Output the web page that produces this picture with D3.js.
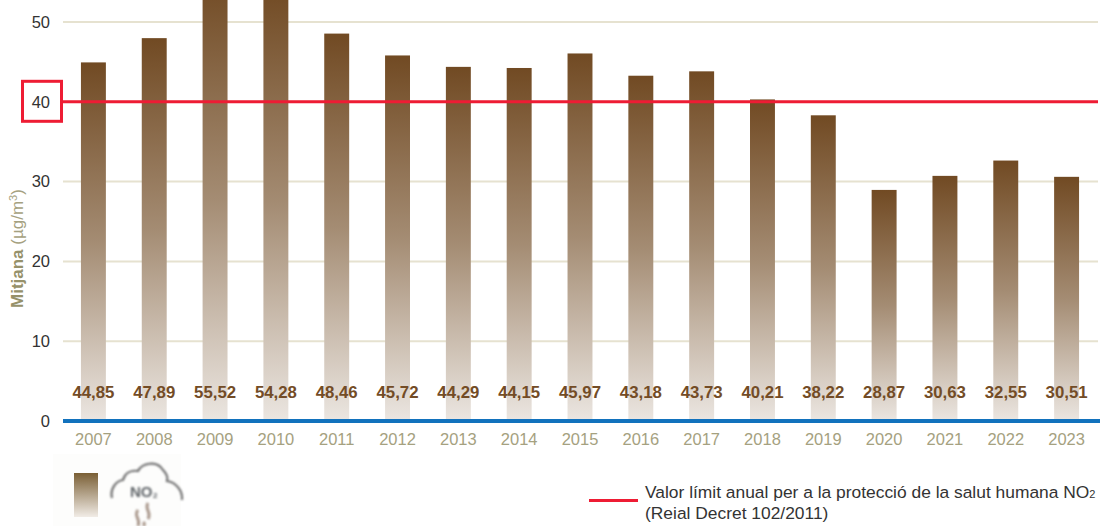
<!DOCTYPE html>
<html>
<head>
<meta charset="utf-8">
<script src="https://cdn.jsdelivr.net/npm/d3@7"></script>
<style>
  html, body { margin: 0; padding: 0; background: #fff; overflow: hidden; }
  text { font-family: "Liberation Sans", Arial, sans-serif; }
</style>
</head>
<body>
<div id="chart"></div>
<script>
var years = ["2007", "2008", "2009", "2010", "2011", "2012", "2013", "2014", "2015", "2016", "2017", "2018", "2019", "2020", "2021", "2022", "2023"];
var values = [44.85, 47.89, 55.52, 54.28, 48.46, 45.72, 44.29, 44.15, 45.97, 43.18, 43.73, 40.21, 38.22, 28.87, 30.63, 32.55, 30.51];
var valueLabels = ["44,85", "47,89", "55,52", "54,28", "48,46", "45,72", "44,29", "44,15", "45,97", "43,18", "43,73", "40,21", "38,22", "28,87", "30,63", "32,55", "30,51"];
var yTicks = [0, 10, 20, 30, 40, 50];
var limitValue = 40;
var legendLines = ["Valor límit anual per a la protecció de la salut humana NO", "(Reial Decret 102/2011)"];

var width = 1100, height = 526;

var svg = d3.select("#chart")
    .append("svg")
    .attr("width", width)
    .attr("height", height)
    .style("display", "block");

// scales
var x = d3.scaleBand()
    .domain(years)
    .range([63, 1097])
    .paddingInner(0.59)
    .paddingOuter(0.295);

var y = d3.scaleLinear()
    .domain([0, 50])
    .range([421, 22]);

// gradient of the bars, dark on top and fading to the bottom
var defs = svg.append("defs");
var grad = defs.append("linearGradient")
    .attr("id", "barGrad")
    .attr("x1", 0).attr("y1", 0).attr("x2", 0).attr("y2", 1);
grad.append("stop").attr("offset", "0%").attr("stop-color", "#714a23");
grad.append("stop").attr("offset", "50%").attr("stop-color", "#a48c73");
grad.append("stop").attr("offset", "100%").attr("stop-color", "#ebe6e1");

// grid lines
svg.append("g")
    .selectAll("line")
    .data(yTicks.filter(d => d > 0))
    .enter()
    .append("line")
    .attr("x1", 63)
    .attr("x2", 1098)
    .attr("y1", d => y(d))
    .attr("y2", d => y(d))
    .style("stroke", "#e6e2d0")
    .style("stroke-width", 2);

// bars
svg.append("g")
    .selectAll("rect")
    .data(values)
    .enter()
    .append("rect")
    .attr("x", (d, i) => x(years[i]))
    .attr("y", d => y(d) - 0.7)
    .attr("width", x.bandwidth())
    .attr("height", d => y(0) - y(d) + 0.7)
    .style("fill", "url(#barGrad)");

// limit line
svg.append("line")
    .attr("x1", 63)
    .attr("x2", 1098)
    .attr("y1", y(limitValue))
    .attr("y2", y(limitValue))
    .style("stroke", "#ee1c34")
    .style("stroke-width", 3);

// box round the 40 tick
svg.append("rect")
    .attr("x", 22.5)
    .attr("y", y(limitValue) - 20.5)
    .attr("width", 39)
    .attr("height", 40)
    .style("fill", "#fff")
    .style("stroke", "#ee1c34")
    .style("stroke-width", 3);

// base line
svg.append("line")
    .attr("x1", 63)
    .attr("x2", 1100)
    .attr("y1", y(0))
    .attr("y2", y(0))
    .style("stroke", "#1272bd")
    .style("stroke-width", 4);

// y axis labels
var yAxis = svg.append("g")
    .attr("transform", "translate(50,0)")
    .call(d3.axisLeft(y).tickValues(yTicks).tickSize(0).tickPadding(0));
yAxis.select(".domain").remove();
yAxis.selectAll("text")
    .style("font-size", "16.5px")
    .style("fill", "#333");

// x axis labels
var xAxis = svg.append("g")
    .attr("transform", "translate(0,433)")
    .call(d3.axisBottom(x).tickSize(0).tickPadding(0));
xAxis.select(".domain").remove();
xAxis.selectAll("text")
    .style("font-size", "16.5px")
    .style("fill", "#a5a180");

// value labels
svg.append("g")
    .selectAll("text")
    .data(valueLabels)
    .enter()
    .append("text")
    .attr("x", (d, i) => x(years[i]) + x.bandwidth() / 2)
    .attr("y", 398)
    .attr("text-anchor", "middle")
    .style("font-size", "16.8px")
    .style("font-weight", "bold")
    .style("fill", "#734c26")
    .text(d => d);

// y axis title
var yTitle = svg.append("text")
    .attr("transform", "translate(23,308) rotate(-90)")
    .style("font-size", "17px")
    .style("fill", "#a5a180");
yTitle.append("tspan").style("font-weight", "bold").style("fill", "#96916a").text("Mitjana");
yTitle.append("tspan").text(" (µg/m");
yTitle.append("tspan").attr("dy", -6).style("font-size", "11px").text("3");
yTitle.append("tspan").attr("dy", 6).text(")");

// legend
svg.append("line")
    .attr("x1", 589)
    .attr("x2", 638)
    .attr("y1", 500.5)
    .attr("y2", 500.5)
    .style("stroke", "#ee1c34")
    .style("stroke-width", 3);

var legend1 = svg.append("text")
    .attr("x", 645)
    .attr("y", 498)
    .style("font-size", "17.4px")
    .style("fill", "#333")
    .text(legendLines[0]);
legend1.append("tspan").style("font-size", "11px").text("2");

svg.append("text")
    .attr("x", 645)
    .attr("y", 519)
    .style("font-size", "17.4px")
    .style("fill", "#333")
    .text(legendLines[1]);

// small icon under the axis: bar swatch and NO2 cloud
svg.append("rect")
    .attr("x", 53)
    .attr("y", 454)
    .attr("width", 128)
    .attr("height", 72)
    .style("fill", "#fdfdfc");

var swatchGrad = defs.append("linearGradient")
    .attr("id", "swatchGrad")
    .attr("x1", 0).attr("y1", 0).attr("x2", 0).attr("y2", 1);
swatchGrad.append("stop").attr("offset", "0%").attr("stop-color", "#7a5f35");
swatchGrad.append("stop").attr("offset", "100%").attr("stop-color", "#f1ece6");

svg.append("rect")
    .attr("x", 74)
    .attr("y", 473)
    .attr("width", 24)
    .attr("height", 44)
    .style("fill", "url(#swatchGrad)")
    .style("filter", "blur(0.7px)");

var icon = svg.append("g")
    .attr("transform", "translate(111,462)")
    .style("fill", "none")
    .style("filter", "blur(0.8px)");
icon.append("path")
    .attr("d", "M1,36 C-1,28 4,19 12,18 C14,11 20,8 27,9 C31,1 46,-2 52,8 C56,12 57,16 56,19 C64,20 72,28 71,38")
    .style("stroke", "#6f6f6f")
    .style("stroke-width", 2.2);
icon.append("path")
    .attr("d", "M27,48 C22,54 30,56 27,64 M37,41 C33,47 41,50 37,57 M34,60 C32,62 33,63 34,64")
    .style("stroke", "#a8968a")
    .style("stroke-width", 3);
icon.append("text")
    .attr("x", 19)
    .attr("y", 35)
    .style("font-size", "15px")
    .style("font-weight", "bold")
    .style("fill", "#5f6468")
    .text("NO");
icon.append("text")
    .attr("x", 42)
    .attr("y", 36)
    .style("font-size", "8px")
    .style("font-weight", "bold")
    .style("fill", "#5f6468")
    .text("2");
</script>
</body>
</html>
